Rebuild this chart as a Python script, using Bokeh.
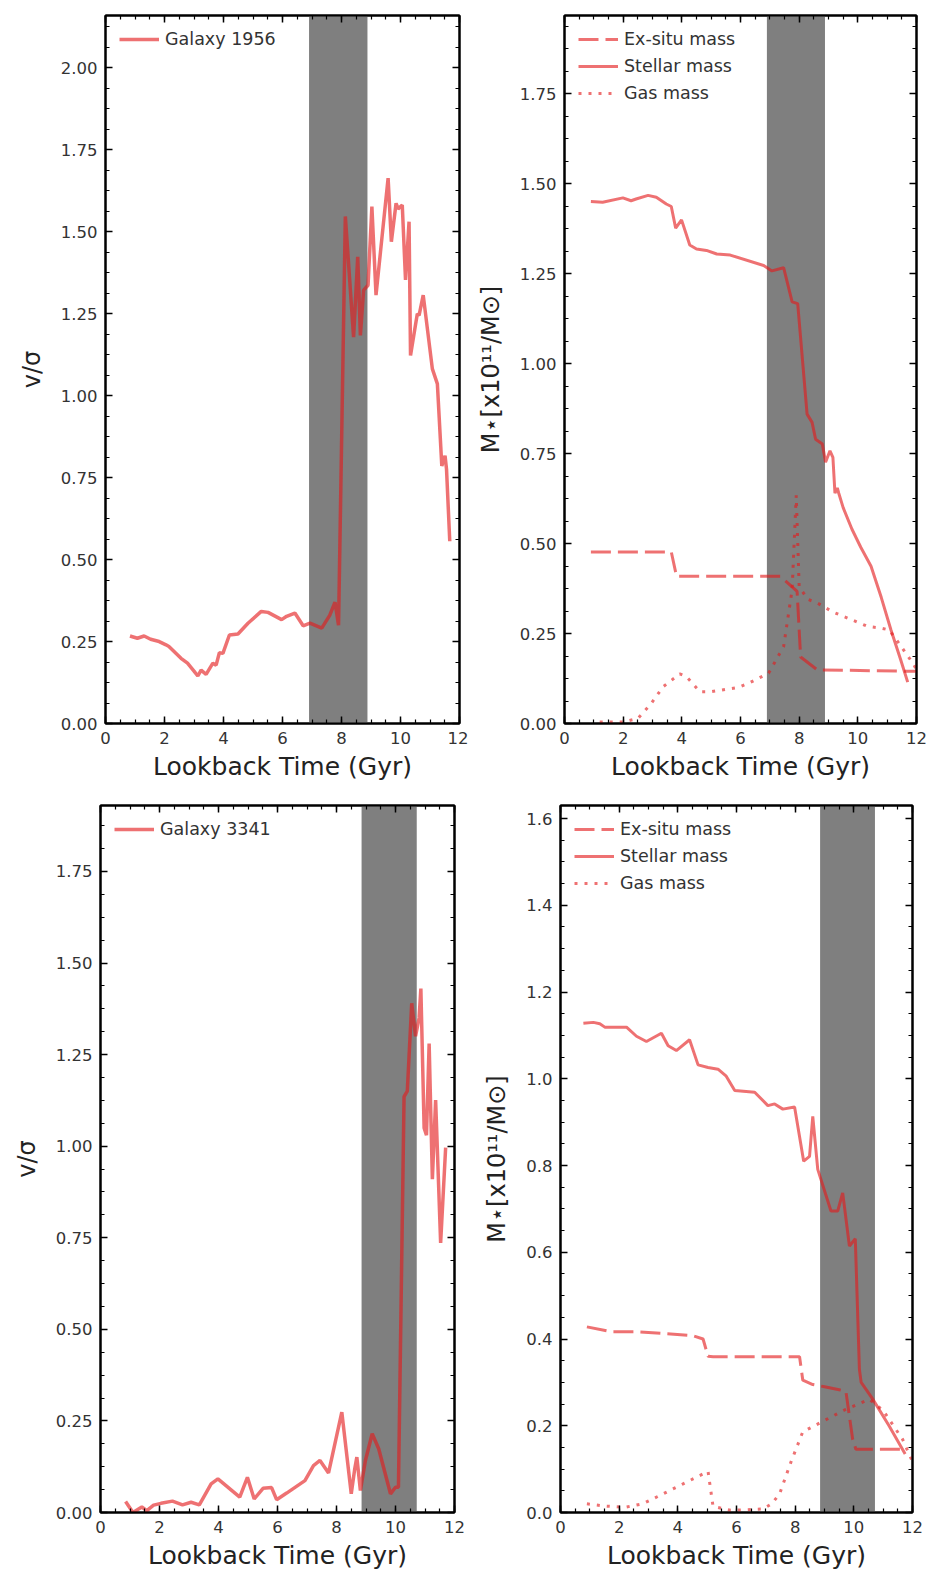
from bokeh.plotting import figure
from bokeh.models import (Range1d, LinearAxis, SingleIntervalTicker, BoxAnnotation,
                          Legend, LegendItem, NumeralTickFormatter, CustomJSTickFormatter)
from bokeh.layouts import row, column
from bokeh.embed import file_html
from bokeh.resources import INLINE

# ---------------- data ----------------
# Galaxy 1956 : v/sigma vs lookback time
t_vs_1956 = [0.83, 1.08, 1.31, 1.53, 1.82, 2.05, 2.15, 2.56, 2.78, 3.0, 3.13, 3.24, 3.41, 3.64,
             3.75, 3.86, 3.98, 4.2, 4.49, 4.83, 5.28, 5.51, 5.97, 6.14, 6.42, 6.7, 6.93, 7.33,
             7.6, 7.78, 7.9, 8.13, 8.41, 8.55, 8.64, 8.75, 8.9, 9.03, 9.17, 9.58, 9.69, 9.85,
             9.92, 10.06, 10.17, 10.29, 10.34, 10.57, 10.63, 10.77, 11.08, 11.25, 11.4, 11.51,
             11.56, 11.67]
vs_1956 = [0.267, 0.26, 0.267, 0.257, 0.25, 0.24, 0.235, 0.199, 0.184, 0.16, 0.145, 0.163, 0.15,
           0.184, 0.178, 0.216, 0.214, 0.27, 0.273, 0.306, 0.342, 0.339, 0.317, 0.327, 0.337,
           0.298, 0.306, 0.291, 0.33, 0.37, 0.30, 1.547, 1.179, 1.424, 1.184, 1.322, 1.337,
           1.577, 1.307, 1.664, 1.47, 1.587, 1.57, 1.582, 1.353, 1.531, 1.123, 1.25, 1.245,
           1.307, 1.082, 1.036, 0.786, 0.817, 0.776, 0.556]

# Galaxy 1956 : masses
t_star_1956 = [0.9, 1.3, 1.99, 2.27, 2.44, 2.85, 3.13, 3.47, 3.64, 3.79, 3.99, 4.27, 4.5, 4.84,
               5.19, 5.65, 6.79, 7.07, 7.47, 7.76, 7.95, 8.27, 8.44, 8.56, 8.79, 8.9, 9.05, 9.15,
               9.22, 9.3, 9.35, 9.5, 9.8, 10.1, 10.45, 10.8, 11.13, 11.45, 11.7]
m_star_1956 = [1.451, 1.449, 1.461, 1.453, 1.458, 1.468, 1.463, 1.444, 1.437, 1.377, 1.4, 1.33,
               1.319, 1.315, 1.305, 1.302, 1.273, 1.258, 1.267, 1.172, 1.167, 0.86, 0.837, 0.79,
               0.777, 0.726, 0.758, 0.74, 0.64, 0.655, 0.64, 0.6, 0.54, 0.49, 0.437, 0.35, 0.26,
               0.18, 0.115]
t_ex_1956 = [0.9, 3.64, 3.82, 7.36, 7.93, 8.0, 8.05, 8.62, 12.0]
m_ex_1956 = [0.477, 0.477, 0.409, 0.409, 0.367, 0.26, 0.185, 0.149, 0.145]
t_gas_1956 = [1.2, 1.98, 2.5, 2.96, 3.36, 3.93, 4.16, 4.62, 4.96, 5.5, 5.93, 6.33, 6.96, 7.47,
              7.76, 7.9, 8.0, 8.3, 8.62, 9.15, 9.65, 10.33, 10.8, 11.07, 11.48, 11.88, 12.0]
m_gas_1956 = [0.004, 0.004, 0.014, 0.056, 0.102, 0.138, 0.13, 0.088, 0.088, 0.095, 0.1, 0.114,
              0.14, 0.214, 0.372, 0.634, 0.38, 0.345, 0.335, 0.31, 0.293, 0.27, 0.265, 0.26,
              0.214, 0.167, 0.15]

# Galaxy 3341 : v/sigma
t_vs_3341 = [0.85, 1.1, 1.4, 1.57, 1.8, 2.05, 2.44, 2.78, 3.07, 3.35, 3.75, 3.98, 4.72, 4.98,
             5.21, 5.51, 5.8, 5.97, 6.31, 6.93, 7.22, 7.44, 7.73, 8.18, 8.5, 8.62, 8.69, 8.81,
             8.98, 9.21, 9.43, 9.83, 10.0, 10.1, 10.29, 10.4, 10.55, 10.68, 10.8, 10.86, 10.97,
             11.05, 11.14, 11.25, 11.36, 11.53, 11.7]
vs_3341 = [0.03, 0.0, 0.015, 0.005, 0.02, 0.025, 0.031, 0.021, 0.028, 0.021, 0.078, 0.092, 0.042,
           0.096, 0.037, 0.066, 0.068, 0.035, 0.053, 0.087, 0.128, 0.142, 0.108, 0.274, 0.051,
           0.12, 0.151, 0.06, 0.142, 0.215, 0.174, 0.051, 0.069, 0.069, 1.135, 1.15, 1.39, 1.3,
           1.35, 1.43, 1.05, 1.03, 1.28, 0.91, 1.126, 0.736, 0.996]

# Galaxy 3341 : masses
t_star_3341 = [0.78, 1.12, 1.34, 1.51, 2.25, 2.59, 2.93, 3.44, 3.67, 3.95, 4.4, 4.69, 5.03, 5.37,
               5.65, 5.94, 6.62, 7.07, 7.3, 7.58, 7.98, 8.29, 8.49, 8.6, 8.77, 9.22, 9.45, 9.62,
               9.85, 10.05, 10.19, 10.25, 10.64, 11.2, 11.75]
m_star_3341 = [1.128, 1.13, 1.127, 1.119, 1.119, 1.098, 1.086, 1.105, 1.076, 1.065, 1.09, 1.032,
               1.026, 1.022, 1.006, 0.973, 0.969, 0.938, 0.942, 0.93, 0.935, 0.81, 0.821, 0.913,
               0.791, 0.695, 0.695, 0.737, 0.614, 0.631, 0.33, 0.30, 0.262, 0.2, 0.135]
t_ex_3341 = [0.9, 1.7, 2.5, 3.5, 4.5, 4.86, 5.03, 5.2, 8.15, 8.26, 8.6, 9.0, 9.5, 9.73, 9.96,
             10.07, 11.75]
m_ex_3341 = [0.428, 0.417, 0.417, 0.413, 0.408, 0.4, 0.36, 0.359, 0.359, 0.305, 0.295, 0.29,
             0.283, 0.279, 0.169, 0.146, 0.146]
t_gas_3341 = [0.9, 1.5, 2.2, 2.8, 3.5, 4.18, 4.86, 5.03, 5.2, 5.8, 6.9, 7.2, 7.47, 7.86, 8.26,
              8.94, 9.73, 10.53, 11.0, 11.66, 12.0]
m_gas_3341 = [0.02, 0.015, 0.012, 0.02, 0.043, 0.066, 0.089, 0.095, 0.014, 0.005, 0.008, 0.02,
              0.043, 0.117, 0.186, 0.21, 0.238, 0.261, 0.235, 0.169, 0.117]

# shaded intervals (Gyr)
band_1956 = [6.9, 8.88]
band_3341 = [8.85, 10.72]

galaxy_labels = ["Galaxy 1956", "Galaxy 3341"]
mass_labels = ["Ex-situ mass", "Stellar mass", "Gas mass"]

# ---------------- style ----------------
FONT = "DejaVu Sans"
LINE = "#e41a1c"
ALPHA = 0.62
BAND = "#7f7f7f"
TICK_FS = "16.5px"
XLAB_FS = "25px"
YLAB_FS = "24px"
LEG_FS = "17.5px"


def style_axis(ax, ticker, fmt=None, hidden=False):
    ax.ticker = ticker
    ax.axis_line_color = "black"
    ax.axis_line_width = 2
    ax.major_tick_in = 7
    ax.major_tick_out = 0
    ax.minor_tick_in = 4
    ax.minor_tick_out = 0
    ax.major_tick_line_width = 1.5
    ax.minor_tick_line_width = 1.2
    ax.major_tick_line_color = "black"
    ax.minor_tick_line_color = "black"
    if hidden:
        ax.formatter = CustomJSTickFormatter(code="return ''")
        ax.major_label_text_font_size = "0px"
        ax.major_label_standoff = 0
    else:
        if fmt is not None:
            ax.formatter = fmt
        ax.major_label_text_font = FONT
        ax.major_label_text_font_size = TICK_FS
        ax.major_label_text_color = "#333333"
        ax.major_label_standoff = 8
        ax.axis_label_text_font = FONT
        ax.axis_label_text_font_style = "normal"
        ax.axis_label_text_color = "#222222"


def make_fig(width, height, left, right, top, bottom, ymax, yint, yfmt, ylabel, band):
    p = figure(width=width, height=height, output_backend="svg", toolbar_location=None,
               x_range=Range1d(0, 12), y_range=Range1d(0, ymax),
               min_border_left=left, min_border_right=right,
               min_border_top=top, min_border_bottom=bottom,
               x_axis_label="Lookback Time (Gyr)", y_axis_label=ylabel)
    p.grid.visible = False
    p.outline_line_color = "black"
    p.outline_line_width = 2
    p.outline_line_alpha = 1
    p.background_fill_color = "white"
    p.border_fill_color = "white"
    xt = lambda: SingleIntervalTicker(interval=2, num_minor_ticks=4)
    yt = lambda: SingleIntervalTicker(interval=yint, num_minor_ticks=4)
    style_axis(p.xaxis[0], xt())
    style_axis(p.yaxis[0], yt(), NumeralTickFormatter(format=yfmt))
    p.xaxis[0].axis_label_text_font_size = XLAB_FS
    p.yaxis[0].axis_label_text_font_size = YLAB_FS
    p.yaxis[0].axis_label_standoff = 12
    p.xaxis[0].axis_label_standoff = 5
    top_ax = LinearAxis()
    style_axis(top_ax, xt(), hidden=True)
    p.add_layout(top_ax, "above")
    right_ax = LinearAxis()
    style_axis(right_ax, yt(), hidden=True)
    p.add_layout(right_ax, "right")
    p.add_layout(BoxAnnotation(left=band[0], right=band[1], fill_color=BAND, fill_alpha=1.0,
                               line_alpha=0, level="underlay"))
    return p


def add_legend(p, items):
    leg = Legend(items=items, location="top_left", margin=4, padding=10, spacing=7,
                 glyph_width=40, glyph_height=20, label_height=20, label_standoff=6,
                 label_text_font=FONT, label_text_font_size=LEG_FS, label_text_color="#333333",
                 background_fill_alpha=0, border_line_alpha=0)
    p.add_layout(leg)


# panel 1 : v/sigma, Galaxy 1956
p1 = make_fig(468, 790, 105, 9, 15, 67, 2.16, 0.25, "0.00", "v/σ", band_1956)
r1 = p1.line(t_vs_1956, vs_1956, line_color=LINE, line_alpha=ALPHA, line_width=3.5)
add_legend(p1, [LegendItem(label=galaxy_labels[0], renderers=[r1])])

# panel 2 : masses, Galaxy 1956
p2 = make_fig(469, 790, 96, 21, 15, 67, 1.968, 0.25, "0.00", "M⋆[x10¹¹/M⊙]", band_1956)
r2a = p2.line(t_ex_1956, m_ex_1956, line_color=LINE, line_alpha=ALPHA, line_width=3,
              line_dash="20 7")
r2b = p2.line(t_star_1956, m_star_1956, line_color=LINE, line_alpha=ALPHA, line_width=3)
r2c = p2.line(t_gas_1956, m_gas_1956, line_color=LINE, line_alpha=ALPHA, line_width=3,
              line_dash="3 7")
add_legend(p2, [LegendItem(label=mass_labels[0], renderers=[r2a]),
                LegendItem(label=mass_labels[1], renderers=[r2b]),
                LegendItem(label=mass_labels[2], renderers=[r2c])])

# panel 3 : v/sigma, Galaxy 3341
p3 = make_fig(468, 784, 100, 14, 15, 62, 1.93, 0.25, "0.00", "v/σ", band_3341)
r3 = p3.line(t_vs_3341, vs_3341, line_color=LINE, line_alpha=ALPHA, line_width=3.5)
add_legend(p3, [LegendItem(label=galaxy_labels[1], renderers=[r3])])

# panel 4 : masses, Galaxy 3341
p4 = make_fig(469, 784, 92, 25, 15, 61, 1.63, 0.2, "0.0", "M⋆[x10¹¹/M⊙]", band_3341)
r4a = p4.line(t_ex_3341, m_ex_3341, line_color=LINE, line_alpha=ALPHA, line_width=3,
              line_dash="20 7")
r4b = p4.line(t_star_3341, m_star_3341, line_color=LINE, line_alpha=ALPHA, line_width=3)
r4c = p4.line(t_gas_3341, m_gas_3341, line_color=LINE, line_alpha=ALPHA, line_width=3,
              line_dash="3 7")
add_legend(p4, [LegendItem(label=mass_labels[0], renderers=[r4a]),
                LegendItem(label=mass_labels[1], renderers=[r4b]),
                LegendItem(label=mass_labels[2], renderers=[r4c])])

layout = column(row(p1, p2), row(p3, p4))
open("out.html", "w").write(file_html(layout, INLINE))
